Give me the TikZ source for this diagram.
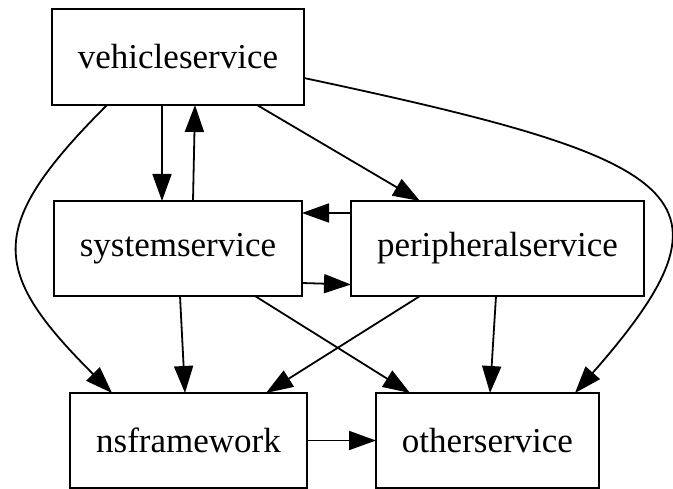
\documentclass[tikz,border=0pt]{standalone}
\usepackage{fontspec}
\setmainfont{Liberation Serif}
\usepackage{tikz}
\usetikzlibrary{
  arrows.meta,
  calc,
  positioning,
}
\tikzstyle{svcbox} = [
  draw,
  rectangle,
  line width=2pt,
  minimum height=95pt,
  outer sep=0pt,
  font=\fontsize{35pt}{42pt}\selectfont,
]
\tikzstyle{dep} = [
  -{Triangle[length=27pt,width=19pt]},
  line width=1.8pt,
]

\begin{document}
\begin{tikzpicture}[x=1pt,y=-1pt,node distance=96pt and 49pt]
  \useasboundingbox (0,0) rectangle (673,489);

  \node[svcbox,minimum width=252pt,minimum height=96pt] (vs) at (178,57) {vehicleservice};
  \node[svcbox,minimum width=248pt] (ss) [below=of vs] {systemservice};
  \node[svcbox,minimum width=293pt] (ps) [right=of ss] {peripheralservice};
  \node[svcbox,minimum width=237pt,xshift=10.5pt] (nsf) [below=97pt of ss] {nsframework};
  \node[svcbox,minimum width=223pt] (os) [right=69pt of nsf] {otherservice};

  % from vehicleservice
  \draw[dep] ([xshift=-16pt]vs.south) -- ([xshift=-16pt]ss.north);
  \draw[dep] ([xshift=79pt]vs.south) -- ([xshift=-77.5pt]ps.north);
  \draw[dep] ([xshift=-71pt]vs.south) .. controls +(-122pt,-122pt) and +(-122pt,122pt) .. ([xshift=-76.5pt]nsf.north);
  \draw[dep] ([yshift=-21pt]vs.east) .. controls +(385pt,-82pt) and +(174pt,198pt) .. ([xshift=87.5pt]os.north);

  % systemservice <-> peripheralservice
  \draw[dep] ([xshift=15pt]ss.north) -- ([xshift=17pt]vs.south);
  \draw[dep] ([yshift=35.5pt]ps.west) -- ([yshift=35.5pt]ss.east);
  \draw[dep] ([yshift=-34.5pt]ss.east) -- ([yshift=-36pt]ps.west);

  % down to the bottom row
  \draw[dep] ([xshift=2pt]ss.south) -- ([xshift=-3.5pt]nsf.north);
  \draw[dep] ([xshift=77pt]ss.south) -- ([xshift=-77.5pt]os.north);
  \draw[dep] ([xshift=-77.5pt]ps.south) -- ([xshift=77.5pt]nsf.north);
  \draw[dep] ([xshift=-1.5pt]ps.south) -- ([xshift=2.5pt]os.north);
  \draw[dep] (nsf.east) -- (os.west);
\end{tikzpicture}
\end{document}
